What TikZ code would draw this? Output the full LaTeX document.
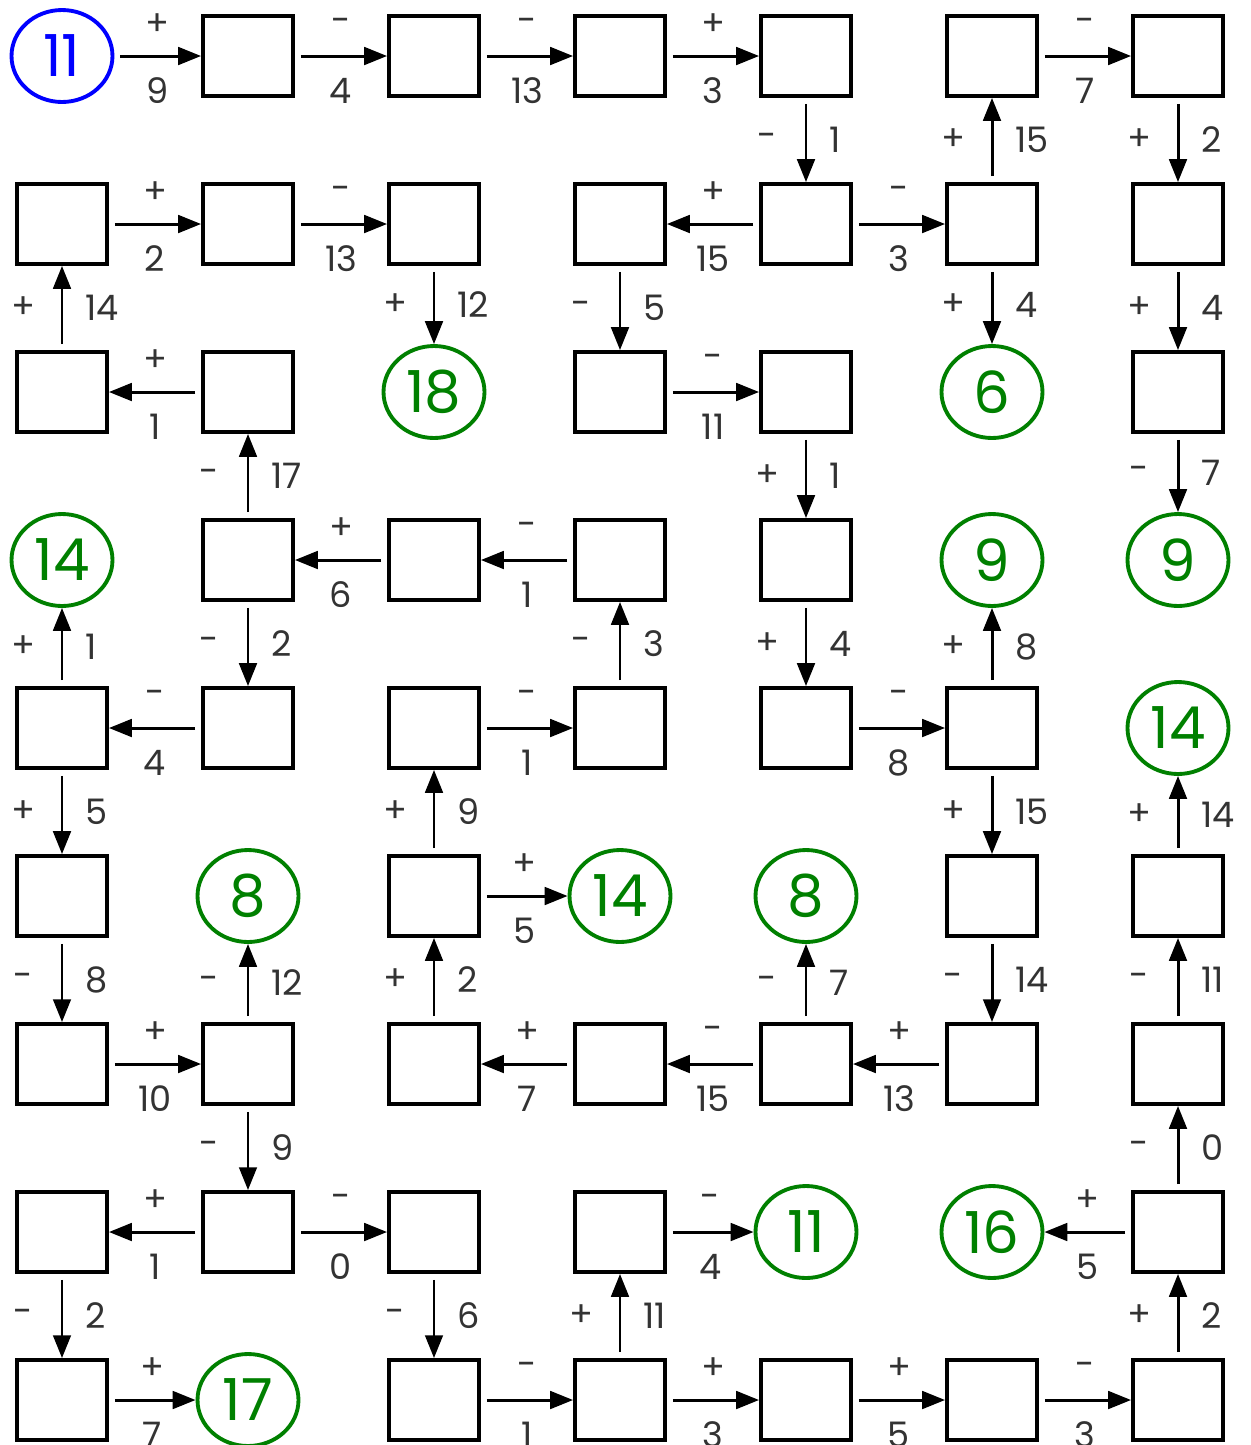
\documentclass[tikz,border=0pt]{standalone}
\usepackage{fontspec}
\setmainfont{Poppins}
\usetikzlibrary{arrows.meta,shapes.geometric}
\tikzset{>={Triangle[length=13pt,width=10pt]}}

\begin{document}
\begin{tikzpicture}[x=0.02cm, y=-0.02cm,
  box/.style={draw, line width=2.2pt, minimum width=1.8cm, minimum height=1.6cm, inner sep=0pt},
  goal/.style={ellipse, draw=green!50!black, text=green!50!black, line width=2.2pt, minimum width=2.02cm, minimum height=1.84cm, inner sep=0pt, font=\fontsize{33}{33}\selectfont},
  arr/.style={->, line width=1.7pt, shorten <=1.2mm},
  lab/.style={inner sep=0pt, text=black!80, font=\fontsize{20}{20}\selectfont}]
\useasboundingbox (0,0) rectangle (1251,1445);
% cells: boxes row by row, then the circled targets
\foreach \r/\cs in {1/{2,...,7}, 2/{1,...,7}, 3/{1,2,4,5,7}, 4/{2,3,4,5}, 5/{1,...,6},
    6/{1,3,6,7}, 7/{1,...,7}, 8/{1,2,3,4,7}, 9/{1,3,4,5,6,7}}
  \foreach \c in \cs
    \node[box] (n\r\c) at ({62+186*(\c-1)},{56+168*(\r-1)}) {};
\node[goal, draw=blue, text=blue] (n11) at (62,56) {11};
\foreach \r/\c/\v in {3/3/18, 3/6/6, 4/1/14, 4/6/9, 4/7/9, 5/7/14, 6/2/8, 6/4/14, 6/5/8,
    8/5/11, 8/6/16, 9/2/17}
  \node[goal] (n\r\c) at ({62+186*(\c-1)},{56+168*(\r-1)}) {\v};
% horizontal moves
\foreach \a/\b/\s/\n in {11/12/+/9, 12/13/-/4, 13/14/-/13, 14/15/+/3, 16/17/-/7,
    21/22/+/2, 22/23/-/13, 25/24/+/15, 25/26/-/3, 32/31/+/1, 34/35/-/11,
    43/42/+/6, 44/43/-/1, 52/51/-/4, 53/54/-/1, 55/56/-/8, 63/64/+/5,
    71/72/+/10, 74/73/+/7, 75/74/-/15, 76/75/+/13,
    82/81/+/1, 82/83/-/0, 84/85/-/4, 87/86/+/5,
    91/92/+/7, 93/94/-/1, 94/95/+/3, 95/96/+/5, 96/97/-/3}
  \draw[arr] (n\a) -- node[lab, yshift=0.62cm] {\s} node[lab, yshift=-0.7cm] {\n} (n\b);
% vertical moves
\foreach \a/\b/\s/\n in {15/25/-/1, 26/16/+/15, 17/27/+/2,
    31/21/+/14, 23/33/+/12, 24/34/-/5, 26/36/+/4, 27/37/+/4,
    42/32/-/17, 35/45/+/1, 37/47/-/7,
    51/41/+/1, 42/52/-/2, 54/44/-/3, 45/55/+/4, 56/46/+/8,
    51/61/+/5, 63/53/+/9, 56/66/+/15, 67/57/+/14,
    61/71/-/8, 72/62/-/12, 73/63/+/2, 75/65/-/7, 66/76/-/14, 77/67/-/11,
    72/82/-/9, 87/77/-/0,
    81/91/-/2, 83/93/-/6, 94/84/+/11, 97/87/+/2}
  \draw[arr] (n\a) -- node[lab, xshift=-0.78cm] {\s} node[lab, anchor=west, xshift=0.44cm] {\n} (n\b);
\end{tikzpicture}
\end{document}
